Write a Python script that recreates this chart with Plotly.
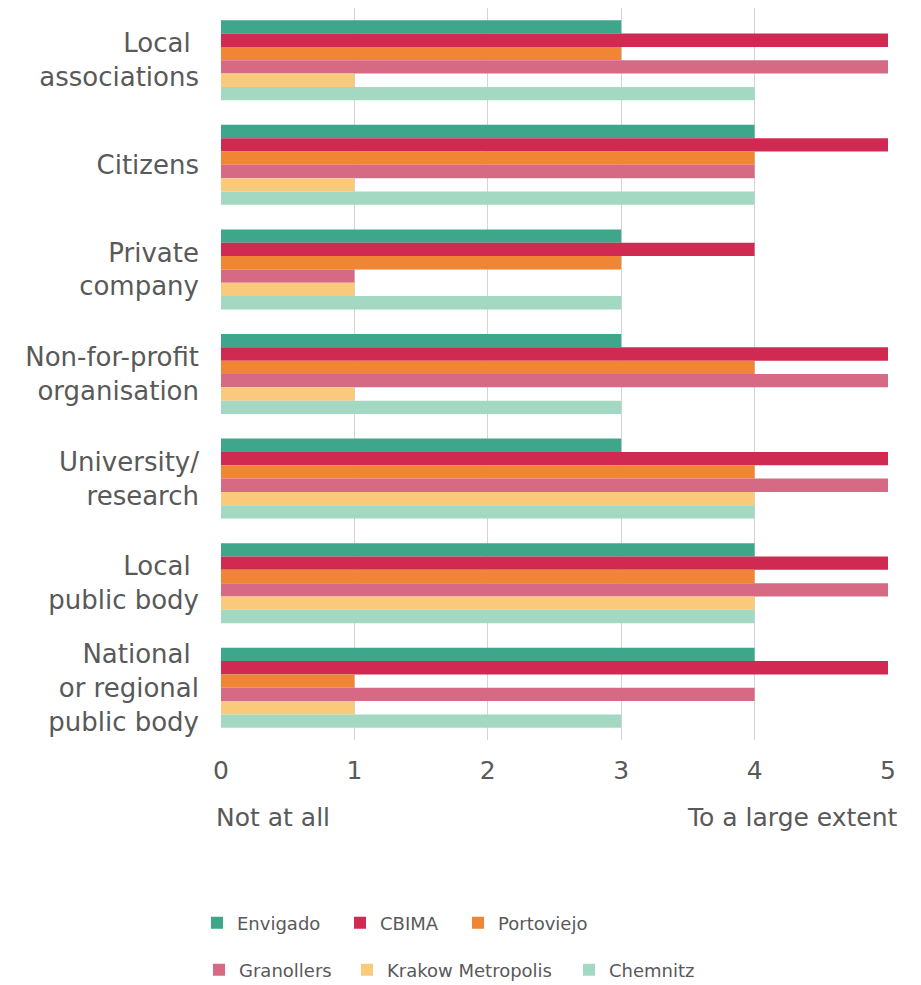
import plotly.graph_objects as go

categories = ["Local <br>associations", "Citizens", "Private<br>company",
              "Non-for-profit<br>organisation", "University/<br>research",
              "Local <br>public body", "National <br>or regional<br>public body"]
series_names = ["Envigado", "CBIMA", "Portoviejo", "Granollers", "Krakow Metropolis", "Chemnitz"]
envigado = [3, 4, 3, 3, 3, 4, 4]
cbima = [5, 5, 4, 5, 5, 5, 5]
portoviejo = [3, 4, 3, 4, 4, 4, 1]
granollers = [5, 4, 1, 5, 5, 5, 4]
krakow = [1, 1, 1, 1, 4, 4, 1]
chemnitz = [4, 4, 3, 3, 4, 4, 3]
colors = ["#3ea68a", "#d02a52", "#f08535", "#d66a84", "#f9c97c", "#a3d8c2"]
x_ticks = [0, 1, 2, 3, 4, 5]

values = [envigado, cbima, portoviejo, granollers, krakow, chemnitz]
TXT = "#595959"
FONT = "DejaVu Sans"
FS = 25

fig = go.Figure()
legend_names = ["legend", "legend2", "legend3", "legend4", "legend5", "legend6"]
for name, vals, col, lg in zip(series_names, values, colors, legend_names):
    fig.add_trace(go.Bar(y=categories, x=vals, name=name, orientation="h",
                         marker=dict(color=col, line=dict(width=0)), legend=lg))

W, H = 921, 985
ml, mr, mt, mb = 221, 33, 8, 245
pw, ph = W - ml - mr, H - mt - mb

def px_x(p):
    return (p - ml) / pw

def px_y(p):
    return (H - mb - p) / ph

leg_pos = [(197, 923), (340, 923), (458, 923), (199, 970), (347, 970), (569, 970)]
layout_legends = {}
for lg, (lx, ly) in zip(legend_names, leg_pos):
    layout_legends[lg] = dict(x=px_x(lx), y=px_y(ly), xanchor="left", yanchor="middle",
                              orientation="h", font=dict(size=18, color=TXT, family=FONT),
                              bgcolor="rgba(0,0,0,0)", borderwidth=0)

fig.update_layout(
    width=W, height=H,
    margin=dict(l=ml, r=mr, t=mt, b=mb, autoexpand=False),
    barmode="group", bargap=0.235, bargroupgap=0,
    plot_bgcolor="white", paper_bgcolor="white",
    font=dict(family=FONT, color=TXT, size=FS),
    showlegend=True,
    xaxis=dict(range=[0, 5.0], tickvals=x_ticks, showgrid=True, gridcolor="#d4d4d4",
               gridwidth=1, zeroline=False, tickfont=dict(size=FS, color=TXT),
               ticks="", ticklabelstandoff=13, fixedrange=True, automargin=False),
    yaxis=dict(autorange="reversed", showgrid=False, ticks="", ticklabelstandoff=21,
               tickfont=dict(size=26, color=TXT), showline=False, automargin=False),
    **layout_legends,
)

fig.add_annotation(x=0, y=px_y(817), xref="x", yref="paper", text="Not at all",
                   showarrow=False, xanchor="left", yanchor="middle", xshift=-7,
                   font=dict(size=FS, color=TXT, family=FONT))
fig.add_annotation(x=5, y=px_y(817), xref="x", yref="paper", text="To a large extent",
                   showarrow=False, xanchor="right", yanchor="middle", xshift=12,
                   font=dict(size=FS, color=TXT, family=FONT))

fig.write_html("out.html")
